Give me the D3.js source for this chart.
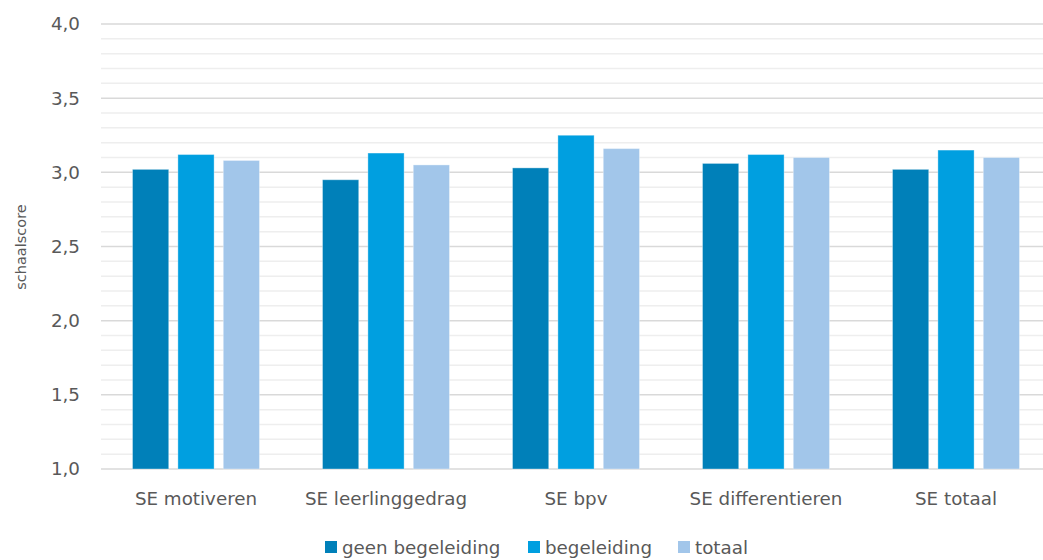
<!DOCTYPE html>
<html><head><meta charset="utf-8">
<script src="https://cdn.jsdelivr.net/npm/d3@7"></script>
<style>body{margin:0;background:#fff;overflow:hidden}svg{display:block}text{font-family:"DejaVu Sans",sans-serif;fill:#595959}</style>
</head><body><svg id="c" width="1043" height="560"></svg>
<script>
const categories = ["SE motiveren","SE leerlinggedrag","SE bpv","SE differentieren","SE totaal"];
const seriesNames = ["geen begeleiding","begeleiding","totaal"];
const geenBegeleiding = [3.02,2.95,3.03,3.06,3.02];
const begeleiding = [3.12,3.13,3.25,3.12,3.15];
const totaal = [3.08,3.05,3.16,3.10,3.10];
const colors = ["#0080b9","#009fe0","#a2c6ea"];
const majorTicks = [1.0,1.5,2.0,2.5,3.0,3.5,4.0];

const series = [geenBegeleiding, begeleiding, totaal];
const svg = d3.select("#c");
const FS = 18.3;
const m = {l:101, r:1051, t:24, b:469};
const x = d3.scaleBand().domain(categories).range([m.l,m.r]).paddingInner(0.3316).paddingOuter(0.1658);
const xs = d3.scaleBand().domain(seriesNames).range([0,x.bandwidth()]).paddingInner(0.202);
const y = d3.scaleLinear().domain([1,4]).range([m.b,m.t]);

// minor gridlines
const minor = d3.range(10,41).map(d=>d/10).filter(v=>Math.round(v*10)%5!==0);
svg.append("g").selectAll("line").data(minor).join("line")
  .attr("x1",m.l).attr("x2",m.r).attr("y1",d=>y(d)).attr("y2",d=>y(d))
  .attr("stroke","#eeeeee").attr("stroke-width",1.5);
svg.append("g").selectAll("line").data(majorTicks).join("line")
  .attr("x1",m.l).attr("x2",m.r).attr("y1",d=>y(d)).attr("y2",d=>y(d))
  .attr("stroke","#d9d9d9").attr("stroke-width",1.5);

// y axis labels
const yAxis = d3.axisLeft(y).tickValues(majorTicks).tickSize(0).tickPadding(21)
  .tickFormat(d=>d3.format(".1f")(d).replace(".",","));
const ya = svg.append("g").attr("transform",`translate(${m.l},0)`).call(yAxis);
ya.select(".domain").remove();
ya.selectAll("text").attr("font-size",FS).style("font-family","DejaVu Sans").attr("fill","#595959");

// bars
series.forEach((s,i)=>{
  svg.append("g").selectAll("rect").data(s).join("rect")
    .attr("x",(d,j)=>x(categories[j])+xs(seriesNames[i]))
    .attr("width",xs.bandwidth())
    .attr("y",d=>y(d)).attr("height",d=>y(1)-y(d))
    .attr("fill",colors[i]).attr("stroke","#ffffff").attr("stroke-opacity",0.35).attr("stroke-width",1);
});

// x axis labels
const xAxis = d3.axisBottom(x).tickSize(0).tickPadding(0);
const xa = svg.append("g").attr("transform",`translate(0,${m.b})`).call(xAxis);
xa.select(".domain").remove();
xa.selectAll("text").attr("y",36).attr("dy",null).attr("font-size",FS).style("font-family","DejaVu Sans").attr("fill","#595959");

// y title
svg.append("text").attr("transform","translate(26,247) rotate(-90)").attr("text-anchor","middle")
  .attr("font-size",14.5).text("schaalscore");

// legend
const legX = [325,528,678];
const lg = svg.append("g");
seriesNames.forEach((n,i)=>{
  lg.append("rect").attr("x",legX[i]).attr("y",541).attr("width",12).attr("height",12).attr("fill",colors[i]);
  lg.append("text").attr("x",legX[i]+17).attr("y",553.5).attr("font-size",FS).text(n);
});
</script></body></html>
